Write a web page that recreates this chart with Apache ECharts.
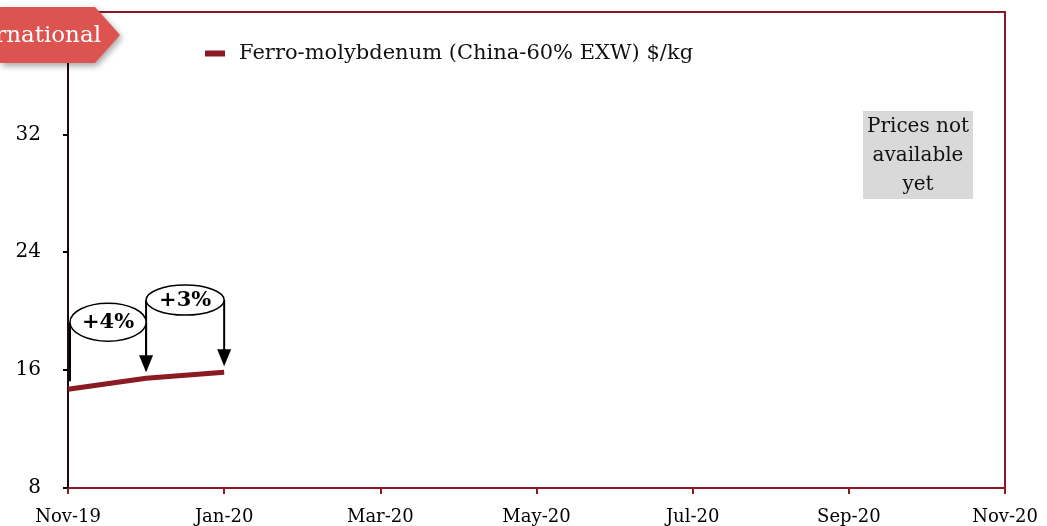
<!doctype html>
<html>
<head>
<meta charset="utf-8">
<title>Ferro-molybdenum</title>
<script src="https://cdn.jsdelivr.net/npm/echarts@6/dist/echarts.min.js"></script>
</head>
<body style="margin:0">
<div id="main" style="width:1047px;height:526px;"></div>
<script>
var months = ['Nov-19', 'Dec-19', 'Jan-20', 'Feb-20', 'Mar-20', 'Apr-20', 'May-20',
              'Jun-20', 'Jul-20', 'Aug-20', 'Sep-20', 'Oct-20', 'Nov-20'];
var prices = [14.7, 15.45, 15.85];
var seriesName = 'Ferro-molybdenum (China-60% EXW) $/kg';
// bubbles: from index, to index, label, level of the bubble (in $/kg), half height
var changes = [[0, 1, '+4%', 19.25, 19], [1, 2, '+3%', 20.75, 15]];

var serif = '"DejaVu Serif", serif';
var dark = '#8B1A22';
var chart = echarts.init(document.getElementById('main'));

chart.setOption({
    animation: false,
    grid: {
        left: 68, right: 42, top: 12, bottom: 38,
        show: true, borderColor: dark, borderWidth: 2
    },
    legend: {
        left: 200, top: 38,
        icon: 'rect', itemWidth: 20, itemHeight: 6,
        textStyle: {fontFamily: serif, fontSize: 21, color: '#111', padding: [0, 0, 0, 9]},
        data: [seriesName]
    },
    xAxis: {
        type: 'category',
        data: months,
        boundaryGap: false,
        axisLine: {lineStyle: {color: dark, width: 2}},
        axisTick: {interval: 1, length: 6, lineStyle: {color: dark, width: 2}},
        axisLabel: {interval: 1, fontFamily: serif, fontSize: 18, color: '#000', margin: 20},
        splitLine: {show: false}
    },
    yAxis: {
        type: 'value',
        min: 8, max: 40.3, interval: 8,
        axisLine: {show: true, lineStyle: {color: '#1a0a0a', width: 2}},
        axisTick: {show: true, length: 5, lineStyle: {color: '#000', width: 2}},
        axisLabel: {showMaxLabel: false, fontFamily: serif, fontSize: 20, color: '#000', margin: 27},
        splitLine: {show: false}
    },
    series: [{
        name: seriesName,
        type: 'line',
        data: prices,
        symbol: 'none',
        lineStyle: {color: dark, width: 5},
        itemStyle: {color: dark}
    }]
});

function notes() {
    var g = [];
    changes.forEach(function (c) {
        var a = chart.convertToPixel({gridIndex: 0}, [c[0], prices[c[0]]]);
        var b = chart.convertToPixel({gridIndex: 0}, [c[1], prices[c[1]]]);
        var yb = chart.convertToPixel({gridIndex: 0}, [c[0], c[3]])[1];
        var tipY = b[1] - 6;
        var ax = c[0] === 0 ? a[0] + 2 : a[0];
        g.push({type: 'line', z: 50, shape: {x1: ax, y1: yb, x2: ax, y2: a[1] - 8},
                style: {stroke: '#000', lineWidth: 2}});
        g.push({type: 'line', z: 50, shape: {x1: b[0], y1: yb, x2: b[0], y2: tipY - 15},
                style: {stroke: '#000', lineWidth: 2}});
        g.push({type: 'polygon', z: 50,
                shape: {points: [[b[0] - 7, tipY - 17], [b[0] + 7, tipY - 17], [b[0], tipY]]},
                style: {fill: '#000'}});
        g.push({type: 'ellipse', z: 51,
                shape: {cx: (ax + b[0]) / 2, cy: yb, rx: (b[0] - ax) / 2, ry: c[4]},
                style: {fill: '#fff', stroke: '#000', lineWidth: 1.5}});
        g.push({type: 'text', z: 52,
                style: {text: c[2], x: (ax + b[0]) / 2, y: yb, align: 'center', verticalAlign: 'middle',
                        font: 'bold 21px ' + serif, fill: '#000'}});
    });

    // cut-off section tag in the top-left corner
    g.push({type: 'polygon', z: 100,
            shape: {points: [[0, 7], [95, 7], [120, 35], [95, 63], [0, 63]]},
            style: {fill: '#DC5350', shadowBlur: 6, shadowOffsetX: 2, shadowOffsetY: 3,
                    shadowColor: 'rgba(0,0,0,0.35)'}});
    g.push({type: 'text', z: 101,
            style: {text: 'rnational', x: 101, y: 36, align: 'right', verticalAlign: 'middle',
                    font: '23px ' + serif, fill: '#fff'}});

    // note box for months without prices
    g.push({type: 'text', z: 60,
            style: {text: 'Prices not\navailable\nyet', x: 918, y: 111, align: 'center', verticalAlign: 'top',
                    font: '20px ' + serif, fill: '#111', lineHeight: 29,
                    backgroundColor: '#D9D9D9', padding: [1, 4, 0, 4]}});
    chart.setOption({graphic: g});
}
notes();
</script>
</body>
</html>
